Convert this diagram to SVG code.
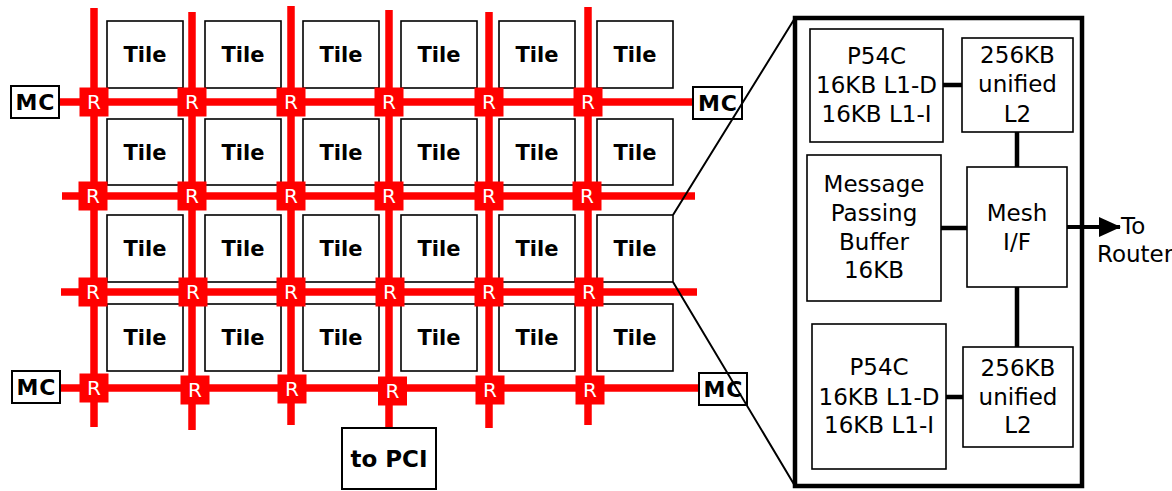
<svg xmlns="http://www.w3.org/2000/svg" width="1172" height="491" viewBox="0 0 1172 491">
  <style>
    .tile { fill: #fff; stroke: #000; stroke-width: 1.6; }
    .tt { font-family: "DejaVu Sans", Verdana, sans-serif; font-weight: bold; font-size: 21px; text-anchor: middle; fill: #000; }
    .net { stroke: #f00; stroke-width: 7.5; fill: none; }
    .rbox { fill: #f00; }
    .rt { font-family: "DejaVu Sans", Verdana, sans-serif; font-size: 20px; text-anchor: middle; fill: #fff; }
    .mc { fill: #fff; stroke: #000; stroke-width: 2; }
    .mct { font-family: "DejaVu Sans", Verdana, sans-serif; font-weight: bold; font-size: 22px; text-anchor: middle; letter-spacing: 1px; fill: #000; }
    .blk { fill: #fff; stroke: #000; stroke-width: 1.6; }
    .bt { font-family: "DejaVu Sans", Verdana, sans-serif; font-size: 23px; text-anchor: middle; fill: #000; }
    .link { stroke: #000; stroke-width: 4.5; fill: none; }
    .zoom { stroke: #000; stroke-width: 2; fill: none; }
  </style>
  <defs>
    <marker id="arrow" markerWidth="22" markerHeight="20" refX="21" refY="10" orient="auto" markerUnits="userSpaceOnUse">
      <path d="M0,0 L22,10 L0,20 Z" fill="#000"/>
    </marker>
  </defs>

  <rect width="1172" height="491" fill="#fff"/>

  <!-- tiles -->
  <g id="tiles">
    <g id="tile-r1">
      <rect class="tile" x="107" y="21" width="76" height="67"/><text class="tt" x="145" y="62">Tile</text>
      <rect class="tile" x="205" y="21" width="76" height="67"/><text class="tt" x="243" y="62">Tile</text>
      <rect class="tile" x="303" y="21" width="76" height="67"/><text class="tt" x="341" y="62">Tile</text>
      <rect class="tile" x="401" y="21" width="76" height="67"/><text class="tt" x="439" y="62">Tile</text>
      <rect class="tile" x="499" y="21" width="76" height="67"/><text class="tt" x="537" y="62">Tile</text>
      <rect class="tile" x="597" y="21" width="76" height="67"/><text class="tt" x="635" y="62">Tile</text>
    </g>
    <g id="tile-r2">
      <rect class="tile" x="107" y="119" width="76" height="66"/><text class="tt" x="145" y="160">Tile</text>
      <rect class="tile" x="205" y="119" width="76" height="66"/><text class="tt" x="243" y="160">Tile</text>
      <rect class="tile" x="303" y="119" width="76" height="66"/><text class="tt" x="341" y="160">Tile</text>
      <rect class="tile" x="401" y="119" width="76" height="66"/><text class="tt" x="439" y="160">Tile</text>
      <rect class="tile" x="499" y="119" width="76" height="66"/><text class="tt" x="537" y="160">Tile</text>
      <rect class="tile" x="597" y="119" width="76" height="66"/><text class="tt" x="635" y="160">Tile</text>
    </g>
    <g id="tile-r3">
      <rect class="tile" x="107" y="215" width="76" height="67"/><text class="tt" x="145" y="256">Tile</text>
      <rect class="tile" x="205" y="215" width="76" height="67"/><text class="tt" x="243" y="256">Tile</text>
      <rect class="tile" x="303" y="215" width="76" height="67"/><text class="tt" x="341" y="256">Tile</text>
      <rect class="tile" x="401" y="215" width="76" height="67"/><text class="tt" x="439" y="256">Tile</text>
      <rect class="tile" x="499" y="215" width="76" height="67"/><text class="tt" x="537" y="256">Tile</text>
      <rect class="tile" x="597" y="215" width="76" height="67"/><text class="tt" x="635" y="256">Tile</text>
    </g>
    <g id="tile-r4">
      <rect class="tile" x="107" y="304" width="76" height="67"/><text class="tt" x="145" y="345">Tile</text>
      <rect class="tile" x="205" y="304" width="76" height="67"/><text class="tt" x="243" y="345">Tile</text>
      <rect class="tile" x="303" y="304" width="76" height="67"/><text class="tt" x="341" y="345">Tile</text>
      <rect class="tile" x="401" y="304" width="76" height="67"/><text class="tt" x="439" y="345">Tile</text>
      <rect class="tile" x="499" y="304" width="76" height="67"/><text class="tt" x="537" y="345">Tile</text>
      <rect class="tile" x="597" y="304" width="76" height="67"/><text class="tt" x="635" y="345">Tile</text>
    </g>
  </g>

  <!-- mesh links and tile-internal links -->
  <g id="connectors">
    <path class="net" d="M94,8 V427 M192,12 V430 M291,6 V425 M389,10 V428 M489,12 V428 M588,7 V425"/>
    <path class="net" d="M59,102 H693 M62,196 H695 M61,292 H697 M60,388 H699"/>
    <path class="link" d="M943,85 H962 M1017,132 V167 M941,228 H967 M1017,287 V347 M946,397 H963"/>
    <path d="M1067,227 H1120" stroke="#000" stroke-width="4" marker-end="url(#arrow)"/>
  </g>

  <!-- routers -->
  <g id="routers">
    <g id="r-row1">
      <rect class="rbox" x="79.5" y="87.5" width="29" height="29"/><text class="rt" x="94" y="109">R</text>
      <rect class="rbox" x="177.5" y="87.5" width="29" height="29"/><text class="rt" x="192" y="109">R</text>
      <rect class="rbox" x="276.5" y="87.5" width="29" height="29"/><text class="rt" x="291" y="109">R</text>
      <rect class="rbox" x="374.5" y="87.5" width="29" height="29"/><text class="rt" x="389" y="109">R</text>
      <rect class="rbox" x="474.5" y="87.5" width="29" height="29"/><text class="rt" x="489" y="109">R</text>
      <rect class="rbox" x="573.5" y="87.5" width="29" height="29"/><text class="rt" x="588" y="109">R</text>
    </g>
    <g id="r-row2">
      <rect class="rbox" x="78.5" y="181.5" width="29" height="29"/><text class="rt" x="93" y="203">R</text>
      <rect class="rbox" x="177.5" y="181.5" width="29" height="29"/><text class="rt" x="192" y="203">R</text>
      <rect class="rbox" x="276.5" y="181.5" width="29" height="29"/><text class="rt" x="291" y="203">R</text>
      <rect class="rbox" x="374.5" y="181.5" width="29" height="29"/><text class="rt" x="389" y="203">R</text>
      <rect class="rbox" x="474.5" y="181.5" width="29" height="29"/><text class="rt" x="489" y="203">R</text>
      <rect class="rbox" x="572.5" y="181.5" width="29" height="29"/><text class="rt" x="587" y="203">R</text>
    </g>
    <g id="r-row3">
      <rect class="rbox" x="78.5" y="277.5" width="29" height="29"/><text class="rt" x="93" y="299">R</text>
      <rect class="rbox" x="178.5" y="277.5" width="29" height="29"/><text class="rt" x="193" y="299">R</text>
      <rect class="rbox" x="276.5" y="277.5" width="29" height="29"/><text class="rt" x="291" y="299">R</text>
      <rect class="rbox" x="375.5" y="277.5" width="29" height="29"/><text class="rt" x="390" y="299">R</text>
      <rect class="rbox" x="474.5" y="277.5" width="29" height="29"/><text class="rt" x="489" y="299">R</text>
      <rect class="rbox" x="574.5" y="277.5" width="29" height="29"/><text class="rt" x="589" y="299">R</text>
    </g>
    <g id="r-row4">
      <rect class="rbox" x="79.5" y="373.5" width="29" height="29"/><text class="rt" x="94" y="395">R</text>
      <rect class="rbox" x="180.5" y="375.5" width="29" height="29"/><text class="rt" x="195" y="397">R</text>
      <rect class="rbox" x="277.5" y="374.5" width="29" height="29"/><text class="rt" x="292" y="396">R</text>
      <rect class="rbox" x="378" y="376.5" width="29" height="29"/><text class="rt" x="392.5" y="398">R</text>
      <rect class="rbox" x="475.5" y="375.5" width="29" height="29"/><text class="rt" x="490" y="397">R</text>
      <rect class="rbox" x="575.5" y="375.5" width="29" height="29"/><text class="rt" x="590" y="397">R</text>
    </g>
  </g>

  <!-- memory controllers -->
  <g id="mc-top-left"><rect class="mc" x="11" y="86" width="48" height="32"/><text class="mct" x="35.5" y="110">MC</text></g>
  <g id="mc-bottom-left"><rect class="mc" x="12" y="371" width="48" height="32"/><text class="mct" x="36.5" y="395">MC</text></g>
  <g id="mc-top-right"><rect class="mc" x="693" y="87" width="49" height="32"/><text class="mct" x="718" y="111">MC</text></g>
  <g id="mc-bottom-right"><rect class="mc" x="699" y="373" width="48" height="32"/><text class="mct" x="723.5" y="397">MC</text></g>

  <!-- PCI port -->
  <g id="pci"><rect class="mc" x="342" y="428" width="94" height="61"/><text class="mct" x="389" y="467" style="font-size:23px;letter-spacing:0">to PCI</text></g>

  <!-- zoom-in outline from the highlighted tile to the detail panel -->
  <g id="zoom-outline">
    <path class="zoom" d="M673,215 L795,18 M673,282 L795,486"/>
  </g>

  <!-- tile detail panel -->
  <g id="tile-detail">
    <rect x="795" y="18" width="287" height="468" fill="none" stroke="#000" stroke-width="4.5"/>
    <g id="core-top">
      <rect class="blk" x="810" y="29" width="133" height="113"/>
      <text class="bt" x="876.5" y="64">P54C</text>
      <text class="bt" x="876.5" y="93">16KB L1-D</text>
      <text class="bt" x="876.5" y="122">16KB L1-I</text>
    </g>
    <g id="l2-top">
      <rect class="blk" x="962" y="38" width="111" height="94"/>
      <text class="bt" x="1017.5" y="63">256KB</text>
      <text class="bt" x="1017.5" y="92">unified</text>
      <text class="bt" x="1017.5" y="122">L2</text>
    </g>
    <g id="mpb">
      <rect class="blk" x="807" y="155" width="134" height="146"/>
      <text class="bt" x="874" y="192">Message</text>
      <text class="bt" x="874" y="221">Passing</text>
      <text class="bt" x="874" y="250">Buffer</text>
      <text class="bt" x="874" y="278">16KB</text>
    </g>
    <g id="mesh-if">
      <rect class="blk" x="967" y="167" width="100" height="120"/>
      <text class="bt" x="1017" y="221">Mesh</text>
      <text class="bt" x="1017" y="250">I/F</text>
    </g>
    <g id="core-bottom">
      <rect class="blk" x="812" y="324" width="134" height="145"/>
      <text class="bt" x="879" y="375">P54C</text>
      <text class="bt" x="879" y="405">16KB L1-D</text>
      <text class="bt" x="879" y="433">16KB L1-I</text>
    </g>
    <g id="l2-bottom">
      <rect class="blk" x="963" y="347" width="110" height="100"/>
      <text class="bt" x="1018" y="376">256KB</text>
      <text class="bt" x="1018" y="405">unified</text>
      <text class="bt" x="1018" y="433">L2</text>
    </g>
  </g>

  <g id="router-label">
    <text class="bt" x="1121" y="234" style="text-anchor:start">To</text>
    <text class="bt" x="1097" y="262" style="text-anchor:start">Router</text>
  </g>
</svg>
